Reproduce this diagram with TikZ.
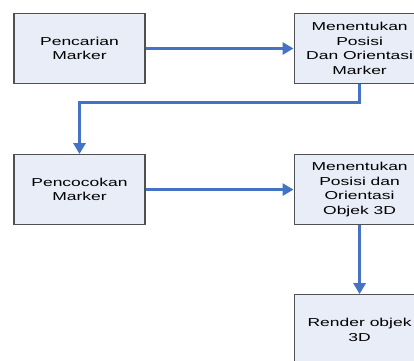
\documentclass[tikz,border=0pt]{standalone}
\usepackage{fontspec}
\setmainfont{Liberation Sans}[FakeStretch=1.52]
\usetikzlibrary{positioning,arrows.meta}
\definecolor{boxfill}{RGB}{232,237,247}
\definecolor{boxline}{RGB}{80,80,80}
\definecolor{flowblue}{RGB}{68,114,196}
\tikzset{
  procbox/.style={draw=boxline,line width=1.1pt,fill=boxfill,minimum width=131pt,
    minimum height=70pt,inner sep=0pt,align=center,
    font=\fontsize{11.5}{14.5}\selectfont},
  flow/.style={draw=flowblue,line width=3pt,
    -{Triangle[length=11pt,width=12pt]}}
}
\begin{document}
\begin{tikzpicture}[node distance=70pt and 148pt]
    \useasboundingbox (0,0) rectangle (414pt,360pt);
    % Process boxes
    \node[procbox] (cari) at (79.5pt,311.5pt) {Pencarian\\Marker};
    \node[procbox,right=of cari] (posmarker) {Menentukan\\Posisi\\Dan Orientasi\\Marker};
    \node[procbox,below=of cari] (cocok) {Pencocokan\\Marker};
    \node[procbox,right=of cocok] (posobjek) {Menentukan\\Posisi dan\\Orientasi\\Objek 3D};
    \node[procbox,below=69pt of posobjek] (render) {Render objek\\3D};

    % Connectors
    \draw[flow] (cari) -- (posmarker);
    \draw[flow] (posmarker.south) -- ++(0,-18pt) -| (cocok.north);
    \draw[flow] (cocok) -- (posobjek);
    \draw[flow] (posobjek) -- (render);
\end{tikzpicture}
\end{document}
